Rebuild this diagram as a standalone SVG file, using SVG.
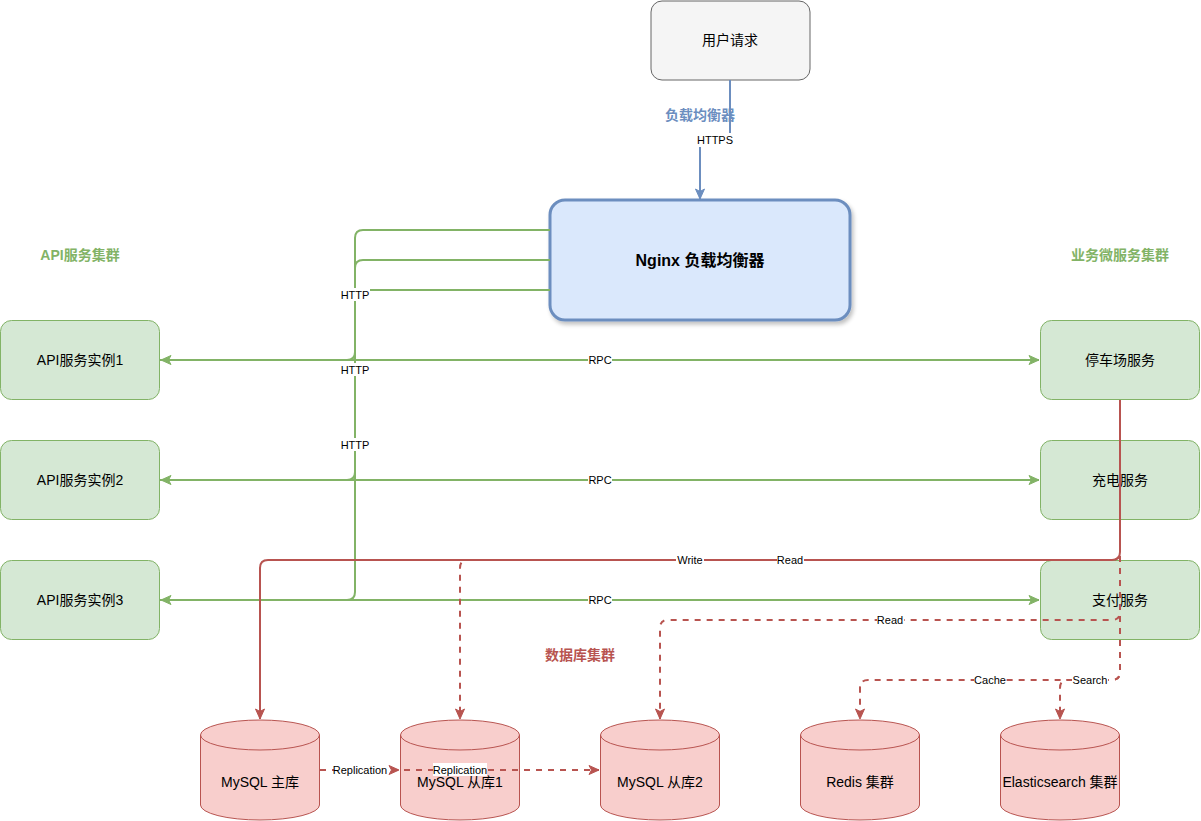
<svg xmlns="http://www.w3.org/2000/svg" width="1201" height="821" viewBox="0 0 1201 821">
<style>
text{font-family:"Liberation Sans","Noto Sans CJK SC",sans-serif;fill:#000;text-anchor:middle;dominant-baseline:central}
.n{font-size:14px}
.l{font-size:11px}
.g{fill:#d5e8d4;stroke:#82b366;stroke-width:1}
.r{fill:#f8cecc;stroke:#b85450;stroke-width:1}
.ge{fill:none;stroke:#82b366;stroke-width:2}
.re{fill:none;stroke:#b85450;stroke-width:2}
.rd{fill:none;stroke:#b85450;stroke-width:2;stroke-dasharray:6 6}
.be{fill:none;stroke:#6c8ebf;stroke-width:2}
.bg{fill:#fff}
.t{font-size:14px;font-weight:bold}
</style>
<defs>
<marker id="ag" markerUnits="userSpaceOnUse" markerWidth="12" markerHeight="12" refX="11" refY="6" orient="auto"><path d="M1,1.5 L11,6 L1,10.5 L3.5,6 z" fill="#82b366" stroke="#82b366" stroke-width="1"/></marker>
<marker id="ar" markerUnits="userSpaceOnUse" markerWidth="12" markerHeight="12" refX="11" refY="6" orient="auto"><path d="M1,1.5 L11,6 L1,10.5 L3.5,6 z" fill="#b85450" stroke="#b85450" stroke-width="1"/></marker>
<marker id="ab" markerUnits="userSpaceOnUse" markerWidth="12" markerHeight="12" refX="11" refY="6" orient="auto"><path d="M1,1.5 L11,6 L1,10.5 L3.5,6 z" fill="#6c8ebf" stroke="#6c8ebf" stroke-width="1"/></marker>
<filter id="sh" x="-10%" y="-10%" width="130%" height="140%"><feGaussianBlur in="SourceAlpha" stdDeviation="2"/><feOffset dx="2" dy="3"/><feComponentTransfer><feFuncA type="linear" slope="0.25"/></feComponentTransfer><feMerge><feMergeNode/><feMergeNode in="SourceGraphic"/></feMerge></filter>
</defs>

<g id="labels">
<text x="700" y="115" class="t" style="fill:#6c8ebf">负载均衡器</text>
<text x="80" y="255" class="t" style="fill:#82b366">API服务集群</text>
<text x="1120" y="255" class="t" style="fill:#82b366">业务微服务集群</text>
<text x="580" y="655" class="t" style="fill:#b85450">数据库集群</text>
</g>

<g id="user"><rect x="651" y="1" width="159" height="79" rx="11" fill="#f5f5f5" stroke="#666666"/><text x="730" y="40" class="n">用户请求</text></g>
<g id="nginx"><rect x="550" y="200" width="300" height="120" rx="15" fill="#dae8fc" stroke="#6c8ebf" stroke-width="3" filter="url(#sh)"/><text x="700" y="260" style="font-size:16px;font-weight:bold">Nginx 负载均衡器</text></g>

<g id="api1"><rect class="g" x="0.5" y="320.5" width="159" height="79" rx="11"/><text x="80" y="360" class="n">API服务实例1</text></g>
<g id="api2"><rect class="g" x="0.5" y="440.5" width="159" height="79" rx="11"/><text x="80" y="480" class="n">API服务实例2</text></g>
<g id="api3"><rect class="g" x="0.5" y="560.5" width="159" height="79" rx="11"/><text x="80" y="600" class="n">API服务实例3</text></g>

<g id="parking"><rect class="g" x="1040.5" y="320.5" width="159" height="79" rx="11"/><text x="1120" y="360" class="n">停车场服务</text></g>
<g id="charging"><rect class="g" x="1040.5" y="440.5" width="159" height="79" rx="11"/><text x="1120" y="480" class="n">充电服务</text></g>
<g id="payment"><rect class="g" x="1040.5" y="560.5" width="159" height="79" rx="11"/><text x="1120" y="600" class="n">支付服务</text></g>

<g id="mysql-master"><path class="r" d="M200.5,735 A59.5,15 0 0 1 319.5,735 V805 A59.5,15 0 0 1 200.5,805 Z"/><path class="r" style="fill:none" d="M200.5,735 A59.5,15 0 0 0 319.5,735"/><text x="260" y="782" class="n">MySQL 主库</text></g>
<g id="mysql-slave1"><path class="r" d="M400.5,735 A59.5,15 0 0 1 519.5,735 V805 A59.5,15 0 0 1 400.5,805 Z"/><path class="r" style="fill:none" d="M400.5,735 A59.5,15 0 0 0 519.5,735"/><text x="460" y="782" class="n">MySQL 从库1</text></g>
<g id="mysql-slave2"><path class="r" d="M600.5,735 A59.5,15 0 0 1 719.5,735 V805 A59.5,15 0 0 1 600.5,805 Z"/><path class="r" style="fill:none" d="M600.5,735 A59.5,15 0 0 0 719.5,735"/><text x="660" y="782" class="n">MySQL 从库2</text></g>
<g id="redis"><path class="r" d="M800.5,735 A59.5,15 0 0 1 919.5,735 V805 A59.5,15 0 0 1 800.5,805 Z"/><path class="r" style="fill:none" d="M800.5,735 A59.5,15 0 0 0 919.5,735"/><text x="860" y="782" class="n">Redis 集群</text></g>
<g id="es"><path class="r" d="M1000.5,735 A59.5,15 0 0 1 1119.5,735 V805 A59.5,15 0 0 1 1000.5,805 Z"/><path class="r" style="fill:none" d="M1000.5,735 A59.5,15 0 0 0 1119.5,735"/><text x="1060" y="782" class="n">Elasticsearch 集群</text></g>

<g id="connectors">
<path class="be" d="M730,80 V140 H700 V199" marker-end="url(#ab)"/>
<rect class="bg" x="697" y="133" width="36" height="14"/>
<text x="715" y="140" class="l">HTTPS</text>

<path class="ge" d="M550,230 H363 Q355,230 355,238 V592 Q355,600 347,600 H161" marker-end="url(#ag)"/>
<path class="ge" d="M550,260 H363 Q355,260 355,268 V472 Q355,480 347,480 H161" marker-end="url(#ag)"/>
<path class="ge" d="M550,290 H363 Q355,290 355,298 V352 Q355,360 347,360 H161" marker-end="url(#ag)"/>
<rect class="bg" x="340" y="288" width="30" height="13"/>
<text x="355" y="295" class="l">HTTP</text>
<rect class="bg" x="340" y="363" width="30" height="13"/>
<text x="355" y="370" class="l">HTTP</text>
<rect class="bg" x="340" y="438" width="30" height="13"/>
<text x="355" y="445" class="l">HTTP</text>

<path class="ge" d="M160,360 H1039" marker-end="url(#ag)"/>
<path class="ge" d="M160,480 H1039" marker-end="url(#ag)"/>
<path class="ge" d="M160,600 H1039" marker-end="url(#ag)"/>
<rect class="bg" x="588" y="353" width="24" height="13"/>
<text x="600" y="360" class="l">RPC</text>
<rect class="bg" x="588" y="473" width="24" height="13"/>
<text x="600" y="480" class="l">RPC</text>
<rect class="bg" x="588" y="593" width="24" height="13"/>
<text x="600" y="600" class="l">RPC</text>

<path class="rd" d="M1120,400 V672 Q1120,680 1112,680 H1068 Q1060,680 1060,688 V719" marker-end="url(#ar)"/>
<path class="rd" d="M1120,400 V672 Q1120,680 1112,680 H868 Q860,680 860,688 V719" marker-end="url(#ar)"/>
<path class="rd" d="M1120,400 V612 Q1120,620 1112,620 H668 Q660,620 660,628 V719" marker-end="url(#ar)"/>
<path class="rd" d="M1120,400 V552 Q1120,560 1112,560 H468 Q460,560 460,568 V719" marker-end="url(#ar)"/>
<path class="re" d="M1120,400 V552 Q1120,560 1112,560 H268 Q260,560 260,568 V719" marker-end="url(#ar)"/>
<rect class="bg" x="676" y="553" width="28" height="13"/>
<text x="690" y="560" class="l">Write</text>
<rect class="bg" x="777" y="553" width="27" height="13"/>
<text x="790" y="560" class="l">Read</text>
<rect class="bg" x="877" y="613" width="27" height="13"/>
<text x="890" y="620" class="l">Read</text>
<rect class="bg" x="974" y="673" width="32" height="13"/>
<text x="990" y="680" class="l">Cache</text>
<rect class="bg" x="1072" y="673" width="36" height="13"/>
<text x="1090" y="680" class="l">Search</text>

<path class="rd" d="M320,770 H599" marker-end="url(#ar)"/>
<path class="rd" d="M320,770 H399" marker-end="url(#ar)"/>
<rect class="bg" x="334" y="763" width="52" height="13"/>
<text x="360" y="770" class="l">Replication</text>
<rect class="bg" x="433" y="763" width="54" height="13"/>
<text x="460" y="770" class="l">Replication</text>
</g>
</svg>
